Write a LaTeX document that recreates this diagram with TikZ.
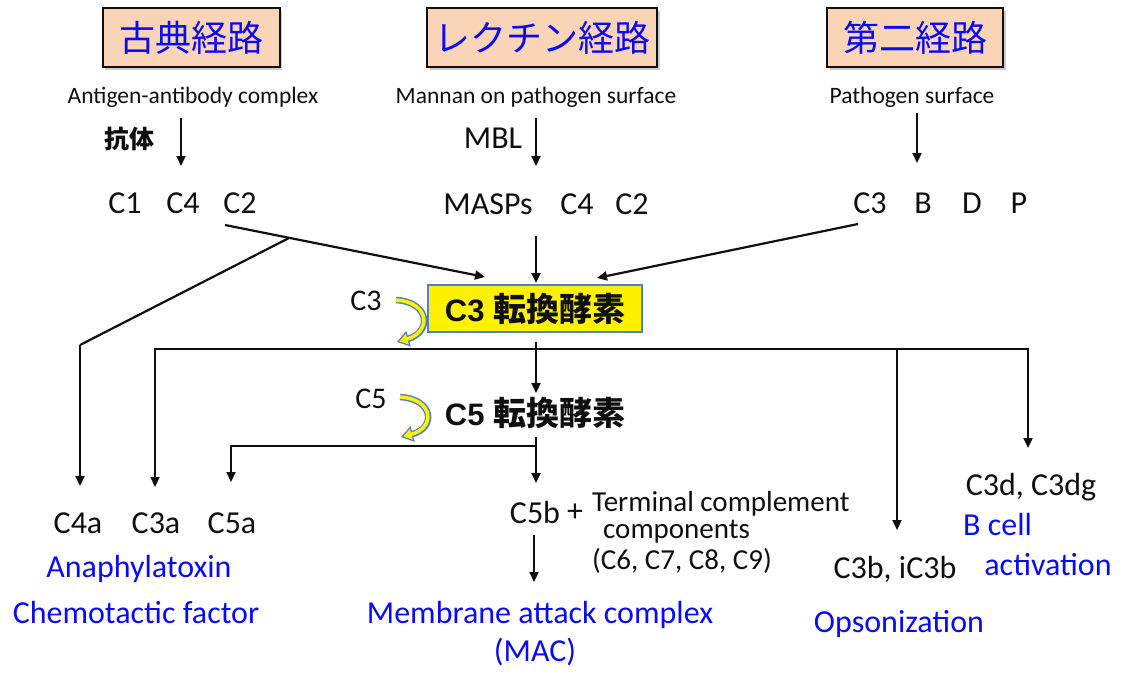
\documentclass[tikz,border=0pt]{standalone}
\usepackage{fontspec}
\setmainfont{Carlito}
\newfontfamily\jp{Noto Sans CJK JP}
\newfontfamily\arialf{Liberation Sans}
\usetikzlibrary{arrows.meta,shadows}
\definecolor{peach}{RGB}{250,212,182}
\definecolor{cblue}{RGB}{79,129,189}
\definecolor{tblue}{RGB}{10,10,245}
\definecolor{ink}{RGB}{15,15,15}
\begin{document}
\begin{tikzpicture}[x=1pt,y=-1pt,
  lbl/.style={inner sep=0pt, anchor=base, text=ink, font=\fontsize{32}{36}\selectfont},
  smalllbl/.style={inner sep=0pt, anchor=base, text=ink, font=\fontsize{23.5}{28}\selectfont},
  tcclbl/.style={inner sep=0pt, text=ink, align=left, font=\fontsize{29}{27}\selectfont},
  blu/.style={lbl, text=tblue},
  arr/.style={line width=2.2pt, draw=ink, -{Triangle[length=10pt,width=9pt]}},
  ln/.style={line width=2.2pt, draw=ink},
  titlebox/.style={draw=ink, line width=2pt, fill=peach, minimum height=59pt, inner sep=0pt,
     text=tblue, font=\jp\fontsize{36}{40}\selectfont,
     drop shadow={shadow xshift=2.5pt, shadow yshift=-2.5pt, fill=black!40, opacity=.5}},
  convtext/.style={inner sep=0pt, text=ink},
  curvout/.style={draw=cblue, line width=6.5pt, -{Triangle[length=12pt,width=16pt,fill=yellow,line width=1.2pt]}},
  curvin/.style={draw=yellow, line width=3.6pt, shorten >=10pt}
]
\useasboundingbox (0,0) rectangle (1121,677);

% titles
\node[titlebox, minimum width=177pt] (tcl) at (191,38) {古典経路};
\node[titlebox, minimum width=230pt] (tle) at (542,38) {レクチン経路};
\node[titlebox, minimum width=176pt] (tal) at (915,38) {第二経路};

% top labels
\node[smalllbl] (lcl) at (193,103) {Antigen-antibody complex};
\node[smalllbl] (lle) at (536,103) {Mannan on pathogen surface};
\node[smalllbl] (lal) at (912,103) {Pathogen surface};

\node[inner sep=0pt, text=ink, font=\jp\bfseries\fontsize{25}{28}\selectfont] (ab) at (129,139) {抗体};
\node[lbl] (mbl) at (493,148) {MBL};

\coordinate (a1s) at (181,118); \coordinate (a1e) at (181,166);
\coordinate (a2s) at (536,118); \coordinate (a2e) at (536,166);
\coordinate (a3s) at (917,113); \coordinate (a3e) at (917,163);
\draw[arr] (a1s) -- (a1e);
\draw[arr] (a2s) -- (a2e);
\draw[arr] (a3s) -- (a3e);

% components
\node[lbl] (c1) at (125,213) {C1};
\node[lbl] (c4) at (183,213) {C4};
\node[lbl] (c2) at (240,213) {C2};
\node[lbl] (masps) at (488,214) {MASPs};
\node[lbl] (lc4) at (577,214) {C4};
\node[lbl] (lc2) at (632,214) {C2};
\node[lbl] (ac3) at (870,213) {C3};
\node[lbl] (ab2) at (923,213) {B};
\node[lbl] (ad) at (972,213) {D};
\node[lbl] (ap) at (1019,213) {P};

% C3 convertase
\node[draw=cblue, line width=2pt, fill=yellow, minimum width=214pt, minimum height=47pt, inner sep=0pt] (c3conv) at (535,308.5) {};
\node[convtext] (c3t) at (535,309) {\arialf\bfseries\fontsize{31}{34}\selectfont C3 {\jp\fontsize{33}{36}\selectfont 転換酵素}};

\coordinate (s1) at (225,225); \coordinate (t1) at (485,277);
\coordinate (j1) at (289,238); \coordinate (k1) at (80,345); \coordinate (t4a) at (80,486);
\coordinate (s2) at (536,236); \coordinate (t2) at (536,283);
\coordinate (s3) at (858,224); \coordinate (t3) at (597,278);
\draw[arr] (s1) -- (t1);
\draw[ln] (j1) -- (k1);
\draw[arr] (k1) -- (t4a);
\draw[arr] (s2) -- (t2);
\draw[arr] (s3) -- (t3);

% C3 curved arrow
\node[lbl, font=\fontsize{30}{34}\selectfont] (c3l) at (366,310) {C3};
\coordinate (cu1) at (396,300); \coordinate (cu1e) at (397,342);
\draw[curvout] (cu1) .. controls (430,302) and (432,332) .. (cu1e);
\draw[curvin] (cu1) .. controls (430,302) and (432,332) .. (cu1e);

% branch line 1
\coordinate (hL) at (155,349); \coordinate (hR) at (1028,349);
\coordinate (hM) at (536,349); \coordinate (hO) at (897,349);
\coordinate (t3a) at (155,487); \coordinate (t3b) at (897,530); \coordinate (t3d) at (1028,448);
\draw[arr] (hM) -- (hL) -- (t3a);
\draw[arr] (hM) -- (hR) -- (t3d);
\draw[arr] (hO) -- (t3b);
\coordinate (v1s) at (536,342); \coordinate (v1e) at (536,393);
\draw[arr] (v1s) -- (v1e);

% C5 convertase
\node[convtext] (c5t) at (535,413) {\arialf\bfseries\fontsize{31}{34}\selectfont C5 {\jp\fontsize{33}{36}\selectfont 転換酵素}};
\node[lbl, font=\fontsize{30}{34}\selectfont] (c5l) at (371,408) {C5};
\coordinate (cu2) at (400,397); \coordinate (cu2e) at (401,437);
\draw[curvout] (cu2) .. controls (434,399) and (436,428) .. (cu2e);
\draw[curvin] (cu2) .. controls (434,399) and (436,428) .. (cu2e);

% branch line 2
\coordinate (v2s) at (536,437); \coordinate (v2e) at (536,483);
\coordinate (h2M) at (536,446); \coordinate (h2L) at (231,446); \coordinate (t5a) at (231,482);
\draw[arr] (v2s) -- (v2e);
\draw[arr] (h2M) -- (h2L) -- (t5a);

% products
\node[lbl] (c4a) at (78,533) {C4a};
\node[lbl] (c3a) at (156,533) {C3a};
\node[lbl] (c5a) at (232,533) {C5a};
\node[blu] (ana) at (139,577) {Anaphylatoxin};
\node[blu] (chem) at (136,623) {Chemotactic factor};

\node[lbl] (c5b) at (535,523) {C5b};
\node[lbl] (plus) at (575,521) {+};
\node[tcclbl, anchor=north west] (tcc) at (592,491) {Terminal complement\\ \hspace*{11pt}components\\[4pt] (C6, C7, C8, C9)};
\coordinate (v3s) at (534,535); \coordinate (v3e) at (534,582);
\draw[arr] (v3s) -- (v3e);
\node[blu] (mac1) at (540,623) {Membrane attack complex};
\node[blu] (mac2) at (535,661) {(MAC)};

\node[lbl] (c3d) at (1031,495) {C3d, C3dg};
\node[blu, anchor=base west] (bcell) at (963,535) {B cell};
\node[blu] (act) at (1048,575) {activation};
\node[lbl] (c3b) at (895,578) {C3b, iC3b};
\node[blu] (ops) at (899,632) {Opsonization};
\end{tikzpicture}
\end{document}
